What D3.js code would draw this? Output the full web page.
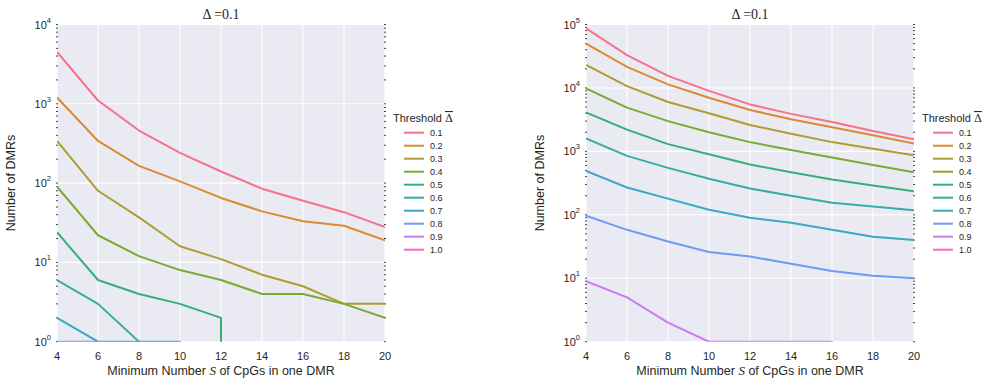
<!DOCTYPE html>
<html>
<head>
<meta charset="utf-8">
<script src="https://cdn.jsdelivr.net/npm/d3@7"></script>
<style>
    body { margin: 0; background: #fff; }
    text { font-family: "Liberation Sans", Arial, sans-serif; fill: #262626; }
</style>
</head>
<body>
<div id="output"></div>
<script>
// minimum CpG count on the x axis
var minCpGs = [4, 6, 8, 10, 12, 14, 16, 18, 20]
var thresholds = ['0.1', '0.2', '0.3', '0.4', '0.5', '0.6', '0.7', '0.8', '0.9', '1.0']
var palette = ['#f77189', '#dc8932', '#ae9d31', '#77ab31', '#33b07a', '#36ada4', '#38a9c5', '#6e9bf4', '#cc7af4', '#f565cc']

// left panel, one row per threshold (0 = no DMR found)
var leftDMRs = [
    [4500, 1100, 460, 240, 140, 85, 60, 43, 28],
    [1200, 340, 165, 105, 65, 44, 33, 29, 19],
    [340, 80, 37, 16, 11, 7, 5, 3, 3],
    [90, 22, 12, 8, 6, 4, 4, 3, 2],
    [24, 6, 4, 3, 2, 0, 0, 0, 0],
    [6, 3, 1, 1, 0, 0, 0, 0, 0],
    [2, 1, 1, 0, 0, 0, 0, 0, 0],
    [1, 1, 0, 0, 0, 0, 0, 0, 0],
    [0, 0, 0, 0, 0, 0, 0, 0, 0],
    [0, 0, 0, 0, 0, 0, 0, 0, 0]
]

// right panel
var rightDMRs = [
    [87000, 33000, 15500, 9000, 5500, 3900, 2900, 2100, 1550],
    [50000, 21500, 11400, 7000, 4500, 3200, 2400, 1800, 1330],
    [23000, 10700, 6000, 4000, 2600, 1900, 1400, 1100, 870],
    [9800, 4900, 3000, 2000, 1400, 1050, 800, 610, 470],
    [4100, 2200, 1300, 900, 620, 470, 360, 290, 235],
    [1600, 850, 550, 370, 260, 200, 155, 135, 118],
    [490, 270, 180, 120, 90, 75, 58, 45, 40],
    [97, 58, 38, 26, 22, 17, 13, 11, 10],
    [9, 5, 2, 1, 1, 1, 1, 0, 0],
    [0, 0, 0, 0, 0, 0, 0, 0, 0]
]

var xTicks = [4, 6, 8, 10, 12, 14, 16, 18, 20]
var leftDecades = [0, 1, 2, 3, 4]
var rightDecades = [0, 1, 2, 3, 4, 5]

var svg = d3.select('#output').append('svg')
    .attr('width', 984)
    .attr('height', 381)

var drawPanel = function(id, left, counts, decades, legendX) {
    var top = 24.5
    var bottom = 341.7
    var right = left + 328
    var maxExp = decades[decades.length - 1]

    var x = d3.scaleLinear().domain([4, 20]).range([left, right])
    var y = d3.scaleLog().domain([1, Math.pow(10, maxExp)]).range([bottom, top])

    var g = svg.append('g')

    g.append('defs').append('clipPath')
        .attr('id', 'clip' + id)
        .append('rect')
        .attr('x', left)
        .attr('y', top)
        .attr('width', right - left)
        .attr('height', bottom - top)

    g.append('rect')
        .attr('x', left)
        .attr('y', top)
        .attr('width', right - left)
        .attr('height', bottom - top)
        .style('fill', '#eaeaf2')

    // grid
    g.selectAll('.vgrid')
        .data(xTicks)
        .enter().append('line')
        .attr('x1', function(d) {return x(d)})
        .attr('x2', function(d) {return x(d)})
        .attr('y1', top)
        .attr('y2', bottom)
        .attr('stroke', '#fff')
        .attr('stroke-width', 1.1)

    g.selectAll('.hgrid')
        .data(decades)
        .enter().append('line')
        .attr('x1', left)
        .attr('x2', right)
        .attr('y1', function(d) {return y(Math.pow(10, d))})
        .attr('y2', function(d) {return y(Math.pow(10, d))})
        .attr('stroke', '#fff')
        .attr('stroke-width', 1.1)

    // minor ticks on both sides, small dark marks like the log axis
    var minor = []
    decades.forEach(function(e) {
        if (e == maxExp) return
        for (var k = 2; k < 10; k++) minor.push(k * Math.pow(10, e))
    })
    var allTicks = minor.concat(decades.map(function(e) {return Math.pow(10, e)}))
    ;[left, right].forEach(function(edge) {
        g.selectAll('.tk')
            .data(allTicks)
            .enter().append('line')
            .attr('x1', edge - 1)
            .attr('x2', edge + 1)
            .attr('y1', function(d) {return y(d)})
            .attr('y2', function(d) {return y(d)})
            .attr('stroke', '#444')
            .attr('stroke-width', 1)
    })

    // series
    var line = d3.line()
        .x(function(d, i) {return x(minCpGs[i])})
        .y(function(d) {return y(d > 0 ? d : 1e-300)})

    g.append('g')
        .attr('clip-path', 'url(#clip' + id + ')')
        .selectAll('path')
        .data(counts)
        .enter().append('path')
        .attr('d', function(d) {return line(d)})
        .attr('fill', 'none')
        .attr('stroke', function(d, i) {return palette[i]})
        .attr('stroke-width', 2)
        .attr('stroke-linejoin', 'round')

    // x tick labels
    g.selectAll('.xl')
        .data(xTicks)
        .enter().append('text')
        .attr('x', function(d) {return x(d)})
        .attr('y', 360)
        .attr('text-anchor', 'middle')
        .style('font-size', '11px')
        .text(function(d) {return d})

    // y tick labels 10^k
    var yl = g.selectAll('.yl')
        .data(decades)
        .enter().append('text')
        .attr('x', left - 6)
        .attr('y', function(d) {return y(Math.pow(10, d)) + 4})
        .attr('text-anchor', 'end')
        .style('font-size', '11px')
    yl.append('tspan').text('10')
    yl.append('tspan')
        .attr('dy', -6)
        .style('font-size', '7.5px')
        .text(function(d) {return d})

    // title
    g.append('text')
        .attr('x', (left + right) / 2)
        .attr('y', 19)
        .attr('text-anchor', 'middle')
        .style('font-family', '"Liberation Serif", serif')
        .style('font-size', '14px')
        .text('\u0394 =0.1')

    // axis labels
    var xl = g.append('text')
        .attr('x', (left + right) / 2)
        .attr('y', 375)
        .attr('text-anchor', 'middle')
        .style('font-size', '12.5px')
    xl.append('tspan').text('Minimum Number ')
    xl.append('tspan')
        .style('font-family', '"Liberation Serif", serif')
        .style('font-style', 'italic')
        .style('font-size', '13px')
        .text('S')
    xl.append('tspan').text(' of CpGs in one DMR')

    g.append('text')
        .attr('transform', 'translate(' + (left - 42) + ',' + ((top + bottom) / 2) + ') rotate(-90)')
        .attr('text-anchor', 'middle')
        .style('font-size', '12.5px')
        .text('Number of DMRs')

    // legend
    var lg = g.append('g').attr('transform', 'translate(' + legendX + ',0)')
    var lt = lg.append('text')
        .attr('x', 0)
        .attr('y', 122)
        .style('font-size', '11px')
    lt.append('tspan').text('Threshold ')
    lt.append('tspan')
        .style('font-family', '"DejaVu Serif", serif')
        .style('text-decoration', 'overline')
        .text('\u0394')

    var item = lg.selectAll('.item')
        .data(thresholds)
        .enter().append('g')
        .attr('transform', function(d, i) {return 'translate(0,' + (132.7 + i * 13) + ')'})
    item.append('line')
        .attr('x1', 11)
        .attr('x2', 31)
        .attr('stroke', function(d, i) {return palette[i]})
        .attr('stroke-width', 2)
    item.append('text')
        .attr('x', 37)
        .attr('y', 3.3)
        .style('font-size', '9px')
        .text(function(d) {return d})
}

drawPanel('L', 57, leftDMRs, leftDecades, 393)
drawPanel('R', 586, rightDMRs, rightDecades, 922)
</script>
</body>
</html>
